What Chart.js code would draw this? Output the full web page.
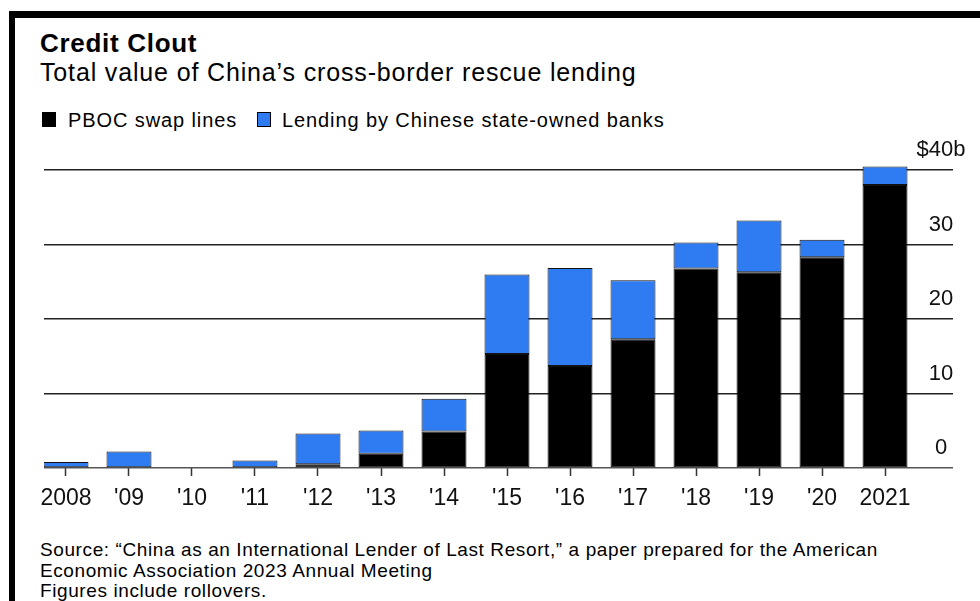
<!DOCTYPE html>
<html>
<head>
<meta charset="utf-8">
<script src="https://cdn.jsdelivr.net/npm/chart.js@4"></script>
<style>
  body { margin: 0; background: #fff; width: 980px; height: 601px; overflow: hidden; position: relative;
         font-family: 'Liberation Sans', Arial, Helvetica, sans-serif; color: #000; }
  .frame-top { position: absolute; left: 9px; top: 11px; width: 971px; height: 7px; background: #000; }
  .frame-left { position: absolute; left: 9px; top: 11px; width: 6px; height: 590px; background: #000; }
  #title { position: absolute; left: 40px; top: 30px; font-size: 26px; font-weight: bold; line-height: 1; letter-spacing: 0.7px; white-space: nowrap; }
  #subtitle { position: absolute; left: 40px; top: 60px; font-size: 25px; line-height: 1; letter-spacing: 0.85px; white-space: nowrap; }
  .legend-box { position: absolute; top: 112px; width: 14px; height: 15px; box-sizing: border-box; border: 1px solid #000; }
  .legend-text { position: absolute; top: 110px; font-size: 20px; line-height: 1; letter-spacing: 0.9px; white-space: nowrap; }
  #source { position: absolute; left: 40px; top: 540px; font-size: 19px; line-height: 20.5px; letter-spacing: 0.6px; white-space: nowrap; }
  #chart { position: absolute; left: 0; top: 140px; }
</style>
</head>
<body>
<div class="frame-top"></div>
<div class="frame-left"></div>
<div id="title">Credit Clout</div>
<div id="subtitle">Total value of China’s cross-border rescue lending</div>
<div class="legend-box" style="left:42px; background:#000;"></div>
<div class="legend-text" style="left:68px;">PBOC swap lines</div>
<div class="legend-box" style="left:257px; background:#2e7bf2;"></div>
<div class="legend-text" style="left:282px;">Lending by Chinese state-owned banks</div>
<canvas id="chart" width="980" height="375"></canvas>
<div id="source">Source: “China as an International Lender of Last Resort,” a paper prepared for the American<br>Economic Association 2023 Annual Meeting<br>Figures include rollovers.</div>
<script>
// values in $ billions
const years = ['2008', "'09", "'10", "'11", "'12", "'13", "'14", "'15", "'16", "'17", "'18", "'19", "'20", '2021'];
const pbocSwap = [0, 0, 0, 0, 0.5, 1.9, 4.9, 15.3, 13.7, 17.3, 26.8, 26.3, 28.3, 38.0];
const bankLending = [0.8, 2.2, 0, 1.0, 4.15, 3.15, 4.4, 10.7, 13.15, 7.9, 3.5, 6.95, 2.35, 2.5];
const yTicks = [0, 10, 20, 30, 40];
const yTickLabels = ['0', '10', '20', '30', '$40b'];

const blue = '#2e7bf2';

function toPoints(values) {
  return values.map(function (v, i) { return { x: i, y: v }; });
}

const ctx = document.getElementById('chart').getContext('2d');
const chart = new Chart(ctx, {
  type: 'bar',
  data: {
    datasets: [
      {
        label: 'PBOC swap lines',
        data: toPoints(pbocSwap),
        backgroundColor: '#000',
        borderColor: '#111',
        borderWidth: 1,
        borderSkipped: false
      },
      {
        label: 'Lending by Chinese state-owned banks',
        data: toPoints(bankLending),
        backgroundColor: blue,
        borderColor: '#111',
        borderWidth: 1,
        borderSkipped: false
      }
    ]
  },
  options: {
    responsive: false,
    animation: false,
    layout: { padding: { left: 44, top: 22.5, right: 0, bottom: 0 } },
    datasets: { bar: { categoryPercentage: 1, barPercentage: 0.714 } },
    plugins: { legend: { display: false }, tooltip: { enabled: false } },
    scales: {
      x: {
        // linear index axis so the bars can sit off-centre in the plot like the original
        type: 'linear',
        stacked: true,
        offset: false,
        min: -0.349,
        max: 14.079,
        afterBuildTicks: function (scale) {
          scale.ticks = years.map(function (_, i) { return { value: i }; });
        },
        afterFit: function (scale) { scale.height = 47; },
        ticks: {
          autoSkip: false,
          maxRotation: 0,
          padding: 9,
          color: '#111',
          font: { family: "'Liberation Sans', Arial, sans-serif", size: 23 },
          callback: function (v) { return years[v]; }
        },
        grid: { offset: false, drawOnChartArea: false, drawTicks: true, tickLength: 8, tickColor: '#333', tickWidth: 1.5 },
        border: { display: false }
      },
      y: {
        position: 'right',
        stacked: true,
        min: 0,
        max: 40.6,
        afterBuildTicks: function (scale) {
          scale.ticks = yTicks.map(function (v) { return { value: v }; });
        },
        afterFit: function (scale) { scale.width = 27; },
        ticks: {
          // mirror so the labels aren't clipped to the thin axis box
          mirror: true,
          crossAlign: 'center',
          padding: 12.5,
          labelOffset: -20,
          color: '#111',
          font: { family: "'Liberation Sans', Arial, sans-serif", size: 22 },
          callback: function (v) { return yTickLabels[yTicks.indexOf(v)]; }
        },
        grid: {
          drawTicks: false,
          color: function (c) { return c.tick && c.tick.value === 0 ? '#555' : '#222'; },
          lineWidth: 1.5
        },
        border: { display: false }
      }
    }
  }
});
</script>
</body>
</html>
